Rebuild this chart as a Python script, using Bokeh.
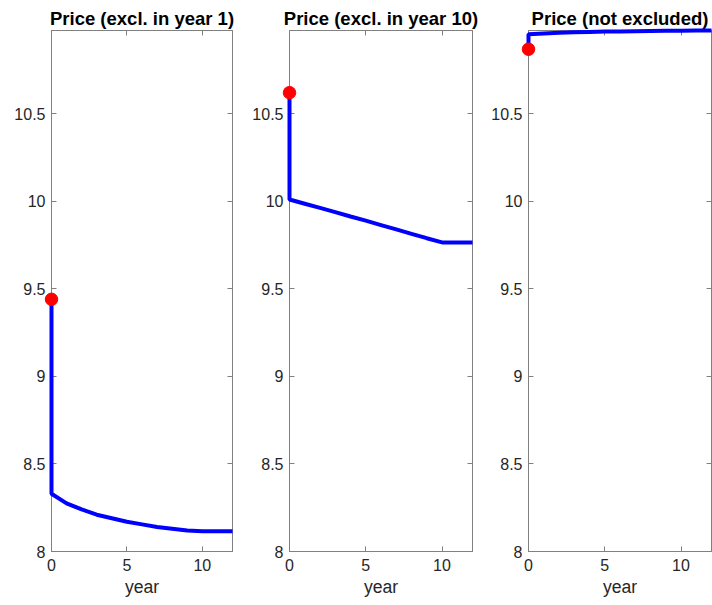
from bokeh.plotting import figure
from bokeh.layouts import row
from bokeh.models import Range1d, LinearAxis, FixedTicker
from bokeh.embed import file_html
from bokeh.resources import INLINE

years = [0, 1, 2, 3, 4, 5, 6, 7, 8, 9, 10, 11, 12]
price_excl1 = [8.33, 8.275, 8.24, 8.21, 8.19, 8.17, 8.155, 8.14, 8.13, 8.12, 8.115, 8.115, 8.115]
price_excl10 = [10.01, 9.986, 9.962, 9.938, 9.913, 9.889, 9.864, 9.839, 9.814, 9.789, 9.765, 9.765, 9.765]
price_notexcl = [10.953, 10.958, 10.962, 10.965, 10.967, 10.969, 10.970, 10.971, 10.972, 10.973, 10.974, 10.975, 10.975]
start_price = [9.44, 10.62, 10.868]
titles = ["Price (excl. in year 1)", "Price (excl. in year 10)", "Price (not excluded)"]
series = [price_excl1, price_excl10, price_notexcl]
x_ticks = [0, 5, 10]
y_ticks = [8, 8.5, 9, 9.5, 10, 10.5]

FONT = "Liberation Sans"
AX = "#808080"
TXT = "#262626"

borders = [(51, 8, 240), (49, 8, 240), (48, 1, 232)]

figs = []
for i in range(3):
    bl, br, w = borders[i]
    p = figure(width=w, height=601, output_backend="svg", toolbar_location=None,
               x_range=Range1d(0, 12), y_range=Range1d(8, 10.975),
               min_border_left=bl, min_border_right=br, min_border_top=30, min_border_bottom=50)
    p.title.text = titles[i]
    p.title.align = "center"
    p.title.text_font = FONT
    p.title.text_font_size = "18.5px"
    p.title.text_font_style = "bold"
    p.title.text_color = "#000000"
    p.title.standoff = 4
    p.grid.visible = False
    p.outline_line_color = AX
    p.outline_line_width = 1
    p.background_fill_color = "white"
    p.border_fill_color = "white"

    for ax in (p.xaxis[0], p.yaxis[0]):
        ax.axis_line_color = AX
        ax.major_tick_line_color = AX
        ax.major_tick_in = 5
        ax.major_tick_out = 0
        ax.minor_tick_line_color = None
        ax.major_label_text_font = FONT
        ax.major_label_text_font_size = "16px"
        ax.major_label_text_color = TXT
    p.xaxis[0].major_label_standoff = 7
    p.yaxis[0].major_label_standoff = 6
    p.xaxis[0].ticker = FixedTicker(ticks=x_ticks)
    p.yaxis[0].ticker = FixedTicker(ticks=y_ticks)
    p.yaxis[0].major_label_overrides = {8: "8", 9: "9", 10: "10"}
    p.xaxis[0].axis_label = "year"
    p.xaxis[0].axis_label_text_font = FONT
    p.xaxis[0].axis_label_text_font_size = "17.6px"
    p.xaxis[0].axis_label_text_font_style = "normal"
    p.xaxis[0].axis_label_text_color = TXT
    p.xaxis[0].axis_label_standoff = 3

    top = LinearAxis(ticker=FixedTicker(ticks=x_ticks))
    right = LinearAxis(ticker=FixedTicker(ticks=y_ticks))
    for ax in (top, right):
        ax.axis_line_color = AX
        ax.major_tick_line_color = AX
        ax.major_tick_in = 5
        ax.major_tick_out = 0
        ax.minor_tick_line_color = None
        ax.major_label_text_font_size = "0px"
        ax.major_label_text_color = None
        ax.major_label_standoff = 0
    p.add_layout(top, "above")
    p.add_layout(right, "right")

    xs = [0] + years
    ys = [start_price[i]] + series[i]
    p.line(xs, ys, line_color="#0000ff", line_width=4, level="overlay")
    p.scatter([0], [start_price[i]], size=12.5, fill_color="#ff0000", line_color="#ff0000",
              level="overlay")
    figs.append(p)

layout = row(*figs, spacing=0)
open("out.html", "w").write(file_html(layout, INLINE))
